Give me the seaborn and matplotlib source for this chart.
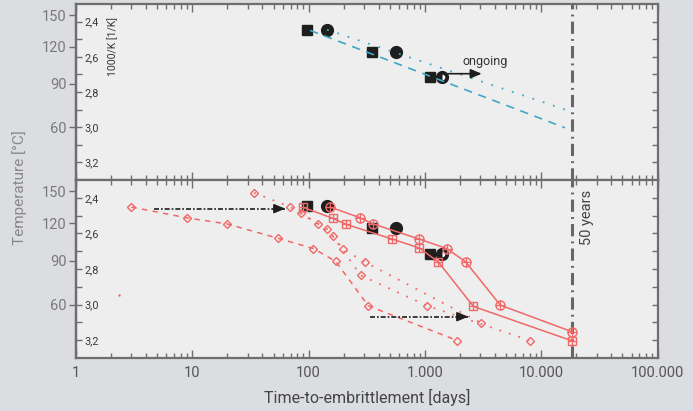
import numpy as np
import matplotlib
matplotlib.use("Agg")
import matplotlib.pyplot as plt
import seaborn as sns

# black reference points (same in both panels): days, 1000/K
sq_days = [97, 353, 1106]
sq_inv = [2.446, 2.571, 2.715]
ci_days = [144, 564]
ci_inv = [2.446, 2.571]
half_days = [1403]
half_inv = [2.715]

# top panel: extrapolation lines
fit_dash_days = [103, 16000]
fit_dash_inv = [2.450, 3.003]
fit_dot_days = [144, 18300]
fit_dot_inv = [2.446, 2.912]
ongoing_days = [1590, 3080]
ongoing_inv = 2.696

# bottom panel: red series
a_days = [153, 274, 360, 895, 1540, 2235, 4450, 18500]
a_inv = [2.452, 2.511, 2.547, 2.632, 2.685, 2.759, 3.003, 3.153]
b_days = [90, 161, 210, 525, 895, 1304, 2608, 18500]
b_inv = [2.454, 2.515, 2.549, 2.632, 2.682, 2.760, 3.010, 3.204]
c_days = [3.0, 8.95, 20, 55, 110, 171, 326, 1900]
c_inv = [2.452, 2.5125, 2.547, 2.628, 2.685, 2.757, 3.007, 3.202]
d1_days = [34, 69, 120, 161, 281, 1049, 8010]
d1_inv = [2.372, 2.450, 2.547, 2.615, 2.836, 3.007, 3.202]
d2_days = [85.5, 145, 199, 305, 3020]
d2_inv = [2.486, 2.577, 2.690, 2.761, 3.102]
stray_days = [2.36]
stray_inv = [2.944]

arrow1_days = [4.7, 63]
arrow1_inv = 2.461
arrow2_days = [337, 2360]
arrow2_inv = 3.068

fifty_years = 50 * 365

x_ticks = [1, 10, 100, 1000, 10000, 100000]
x_tick_labels = ["1", "10", "100", "1.000", "10.000", "100.000"]
inv_ticks = [2.4, 2.6, 2.8, 3.0, 3.2]
inv_labels = ["2,4", "2,6", "2,8", "3,0", "3,2"]
inv_minor = [2.5, 2.7, 2.9, 3.1]
temp_ticks = [150, 120, 90, 60]
temp_labels = ["150", "120", "90", "60"]

sns.set_style("white")
plt.rcParams['font.family'] = ['Roboto', 'DejaVu Sans']

RED = '#f06868'
CYAN = '#3fa6c6'
BLACK = '#1e1e1e'
SPINE = '#6e6e6e'
FIGBG = '#dcdde0'
AXBG = '#eeeeee'

fig = plt.figure(figsize=(6.93, 4.11), dpi=100, facecolor=FIGBG)
ax_top = fig.add_axes([76 / 693, 1 - 180 / 411, 581.5 / 693, 176 / 411])
ax_bot = fig.add_axes([76 / 693, 1 - 358 / 411, 581.5 / 693, 178 / 411])


def inv_to_t(v):
    v = np.asarray(v, dtype=float)
    with np.errstate(divide='ignore', invalid='ignore'):
        return 1000.0 / v - 273.15


def t_to_inv(t):
    t = np.asarray(t, dtype=float)
    with np.errstate(divide='ignore', invalid='ignore'):
        return 1000.0 / (t + 273.15)


for ax in (ax_top, ax_bot):
    ax.set_facecolor(AXBG)
    ax.set_xscale('log')
    ax.set_xlim(1, 100000)
    ax.set_ylim(3.3, 2.3)
    for sp in ax.spines.values():
        sp.set_color(SPINE)
        sp.set_linewidth(1.6)
    ax.set_xticks(x_ticks)
    ax.tick_params(axis='x', which='both', direction='in', top=True, bottom=True,
                   color=SPINE, width=1.0)
    ax.tick_params(axis='x', which='major', length=6)
    ax.tick_params(axis='x', which='minor', length=3.5)
    ax.set_yticks(inv_ticks, inv_labels)
    ax.set_yticks(inv_minor, minor=True)
    ax.tick_params(axis='y', which='both', direction='in', left=True, right=True,
                   color=SPINE, width=1.0, length=4, pad=-6,
                   labelsize=7.8, labelcolor='#3a3a3a')
    for lbl in ax.get_yticklabels():
        lbl.set_horizontalalignment('left')

    sec = ax.secondary_yaxis('left', functions=(inv_to_t, t_to_inv))
    sec.set_yticks(temp_ticks, temp_labels)
    sec.tick_params(axis='y', which='major', direction='out', length=5, width=1.0,
                    color=SPINE, labelsize=10.5, labelcolor='#7a7a7a', pad=2)
    sec.tick_params(axis='y', which='minor', length=0)
    sec.spines['left'].set_color(SPINE)
    sec.spines['left'].set_linewidth(1.6)

    # 50 years line
    ax.axvline(fifty_years, color='#666666', lw=2.2, dashes=(4, 1.7, 0.6, 1.7), zorder=2)

    # black reference markers
    ax.plot(sq_days, sq_inv, 's', ms=7.5, color=BLACK, zorder=3)
    ax.plot(ci_days, ci_inv, 'o', ms=8.5, color=BLACK, zorder=3)
    ax.plot(half_days, half_inv, 'o', ms=8.5, color=BLACK, zorder=3)
    ax.plot(half_days, half_inv, 'o', ms=4, fillstyle='right', markerfacecolor='white',
            markerfacecoloralt='none', markeredgewidth=0, zorder=3)

ax_top.tick_params(axis='x', labelbottom=False)
ax_bot.set_xticks(x_ticks, x_tick_labels)
ax_bot.tick_params(axis='x', which='major', labelsize=10.5, labelcolor='#555555', pad=6)
ax_bot.set_xlabel('Time-to-embrittlement [days]', fontsize=11.5, color='#444444', labelpad=6)

# top panel lines
sns.lineplot(x=fit_dash_days, y=fit_dash_inv, ax=ax_top, color=CYAN, lw=1.2,
             dashes=(5, 4), estimator=None, sort=False, zorder=4)
sns.lineplot(x=fit_dot_days, y=fit_dot_inv, ax=ax_top, color=CYAN, lw=1.3,
             linestyle=(0, (1, 5)), estimator=None, sort=False, zorder=4)
ax_top.annotate('', xy=(ongoing_days[1], ongoing_inv), xytext=(ongoing_days[0], ongoing_inv),
                arrowprops=dict(arrowstyle='-|>,head_length=0.6,head_width=0.25', color=BLACK,
                                lw=1.2, mutation_scale=11, shrinkA=0, shrinkB=0), zorder=5)
ax_top.text(3300, 2.625, 'ongoing', fontsize=9, color='#333333', ha='center', va='center')

# bottom panel red series
mk = dict(markerfacecolor='none', markeredgecolor=RED, markeredgewidth=1.0)
sns.lineplot(x=c_days, y=c_inv, ax=ax_bot, color=RED, lw=1.1, dashes=(3.5, 3.5),
             marker='D', ms=4.5, estimator=None, sort=False, zorder=5, **mk)
sns.lineplot(x=d1_days, y=d1_inv, ax=ax_bot, color=RED, lw=1.3, linestyle=(0, (1, 4.5)),
             marker='D', ms=4.5, estimator=None, sort=False, zorder=5, **mk)
sns.lineplot(x=d2_days, y=d2_inv, ax=ax_bot, color=RED, lw=1.3, linestyle=(0, (1, 4.5)),
             marker='D', ms=4.5, estimator=None, sort=False, zorder=5, **mk)
sns.lineplot(x=a_days, y=a_inv, ax=ax_bot, color=RED, lw=1.1,
             marker='o', ms=6.5, estimator=None, sort=False, zorder=5, **mk)
sns.lineplot(x=b_days, y=b_inv, ax=ax_bot, color=RED, lw=1.1,
             marker='s', ms=5.5, estimator=None, sort=False, zorder=5, **mk)
ax_bot.plot(a_days, a_inv, '+', ms=6.5, mew=0.9, color=RED, zorder=6)
ax_bot.plot(b_days, b_inv, '+', ms=5.5, mew=0.9, color=RED, zorder=6)
ax_bot.plot(stray_days, stray_inv, '.', ms=1.5, color=RED, zorder=5)

# black dash-dot arrows
for days, inv in ((arrow1_days, arrow1_inv), (arrow2_days, arrow2_inv)):
    ax_bot.plot(days, [inv, inv], color=BLACK, lw=1.2, dashes=(3, 1.2, 1, 1.2), zorder=6)
    ax_bot.annotate('', xy=(days[1], inv), xytext=(days[1] / 1.25, inv),
                    arrowprops=dict(arrowstyle='-|>,head_length=0.6,head_width=0.25',
                                    color=BLACK, lw=1.2, mutation_scale=11,
                                    shrinkA=0, shrinkB=0), zorder=6)

ax_bot.text(24600, 2.5125, '50 years', rotation=90, fontsize=10.5, color='#444444',
            ha='center', va='center')

fig.text(113 / 693, 1 - 46 / 411, '1000/K [1/K]', rotation=90, fontsize=7.5,
         color='#333333', ha='center', va='center')
fig.text(20 / 693, 1 - 188 / 411, 'Temperature [°C]', rotation=90, fontsize=11,
         color='#888888', ha='center', va='center')

fig.savefig('out.png', dpi=100, facecolor=FIGBG)
